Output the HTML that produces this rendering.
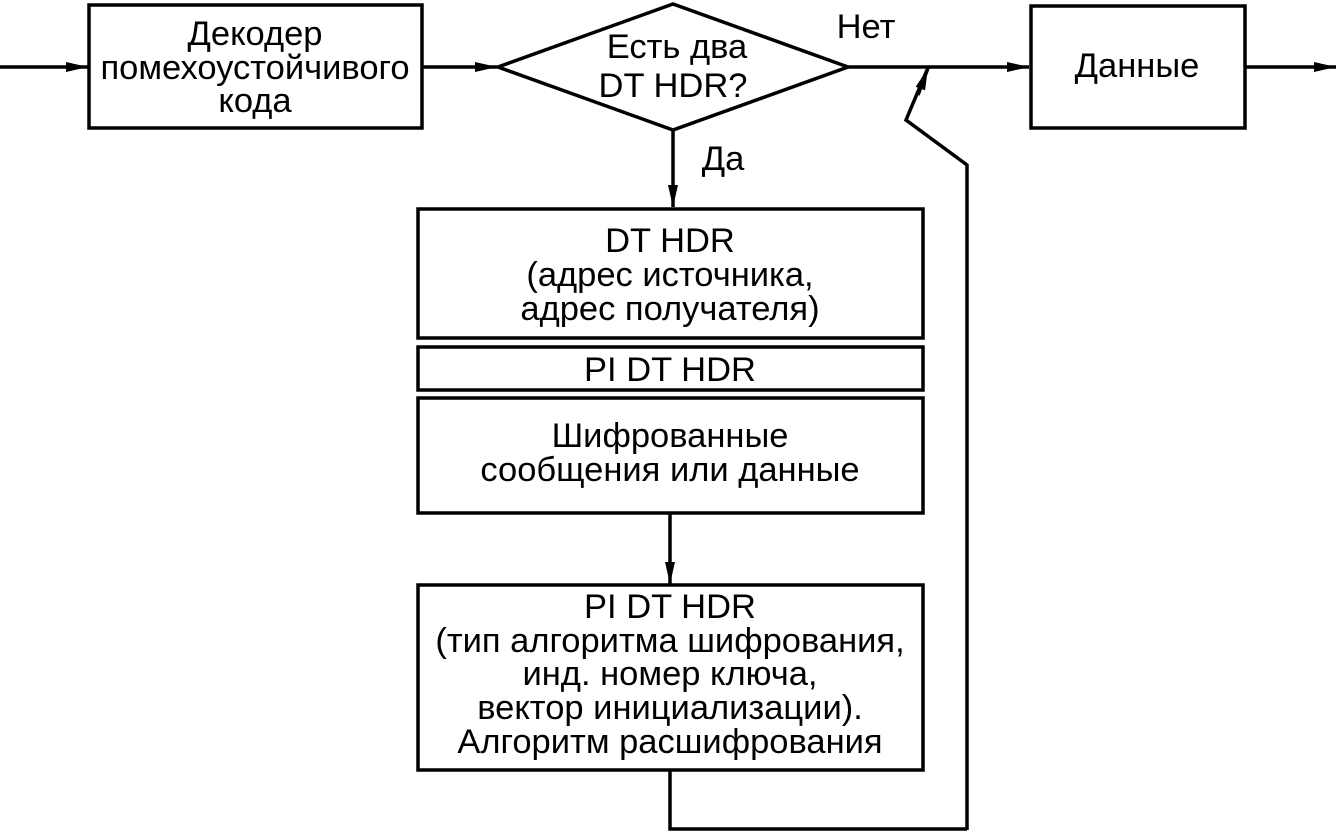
<!DOCTYPE html>
<html><head><meta charset="utf-8"><style>
html,body{margin:0;padding:0;background:#fff;}
svg{display:block;}
text{font-family:"Liberation Sans",Arial,sans-serif;font-size:34.5px;fill:#000;text-anchor:middle;}
</style></head><body>
<svg width="1337" height="832" viewBox="0 0 1337 832" xmlns="http://www.w3.org/2000/svg">
<defs><marker id="a" markerWidth="22" markerHeight="10" refX="22" refY="5" orient="auto" markerUnits="userSpaceOnUse"><path d="M0,0 L22,5 L0,10 Z" fill="#000"/></marker></defs>
<g stroke="#000" stroke-width="3.5" fill="none">
<line x1="0" y1="67" x2="88" y2="67" marker-end="url(#a)"/>
<rect x="89" y="5" width="333" height="123"/>
<line x1="422" y1="67" x2="497" y2="67" marker-end="url(#a)"/>
<polygon points="498,67 673,4 848,67 673,130"/>
<line x1="848" y1="67" x2="1029" y2="67" marker-end="url(#a)"/>
<rect x="1031" y="6" width="214" height="122"/>
<line x1="1245" y1="67" x2="1336" y2="67" marker-end="url(#a)"/>
<polyline points="967,830 967,165 906,120 927,70" />
<line x1="918" y1="95" x2="928" y2="68" marker-end="url(#a)"/>
<line x1="673" y1="130" x2="673" y2="207" marker-end="url(#a)"/>
<rect x="418" y="209" width="505" height="129"/>
<rect x="418" y="347" width="505" height="43"/>
<rect x="418" y="398" width="505" height="115"/>
<line x1="670" y1="513" x2="670" y2="584" marker-end="url(#a)"/>
<rect x="418" y="585" width="505" height="185"/>
<polyline points="670,770 670,829 967,829"/>
</g>
<text x="255" y="45">Декодер</text>
<text x="255" y="79">помехоустойчивого</text>
<text x="255" y="112">кода</text>
<text x="677" y="58">Есть два</text>
<text x="673" y="97">DT HDR?</text>
<text x="866" y="38">Нет</text>
<text x="1137" y="77">Данные</text>
<text x="723" y="170">Да</text>
<text x="670" y="252">DT HDR</text>
<text x="670" y="286">(адрес источника,</text>
<text x="670" y="320">адрес получателя)</text>
<text x="670" y="381">PI DT HDR</text>
<text x="670" y="447">Шифрованные</text>
<text x="670" y="481">сообщения или данные</text>
<text x="670" y="618">PI DT HDR</text>
<text x="670" y="652">(тип алгоритма шифрования,</text>
<text x="670" y="685">инд. номер ключа,</text>
<text x="670" y="719">вектор инициализации).</text>
<text x="670" y="753">Алгоритм расшифрования</text>
</svg>
</body></html>
